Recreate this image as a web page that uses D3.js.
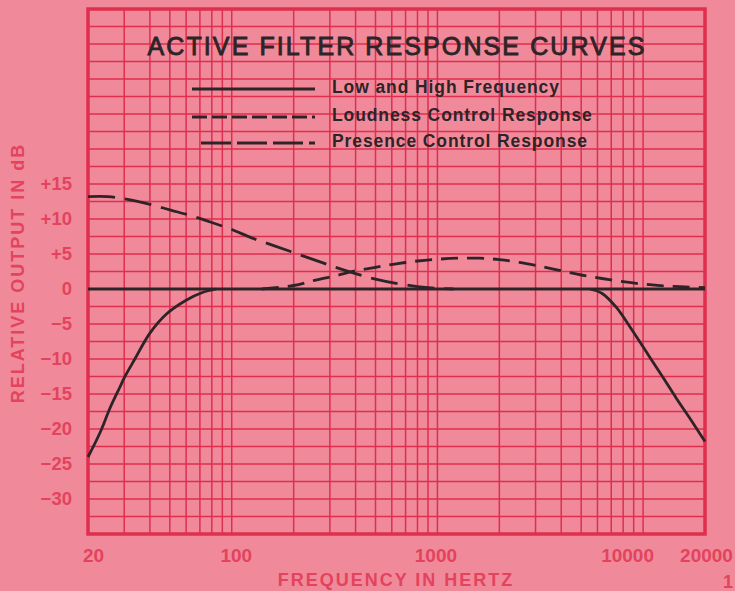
<!DOCTYPE html>
<html>
<head>
<meta charset="utf-8">
<script src="https://cdn.jsdelivr.net/npm/d3@7"></script>
<style>
  body { margin: 0; background: #f08a9b; }
  svg { display: block; }
  text { font-family: "Liberation Sans", Arial, Helvetica, sans-serif; }
</style>
</head>
<body>
<div id="chart"></div>
<script>
// data
var freqTicks = [20, 100, 1000, 10000, 20000];
var freqTickLabels = ["20", "100", "1000", "10000", "20000"];
var dbTicks = [15, 10, 5, 0, -5, -10, -15, -20, -25, -30];
var dbTickLabels = ["+15", "+10", "+5", "0", "\u22125", "\u221210", "\u221215", "\u221220", "\u221225", "\u221230"];

var flatFreq = [20, 20000];
var flatDb = [0, 0];

var lowCutFreq = [20, 22.9, 25.6, 28.6, 30, 33.8, 40, 48, 60, 72, 84];
var lowCutDb = [-24, -20.5, -17, -14, -12.7, -10, -6.3, -3.6, -1.6, -0.5, 0];

var highCutFreq = [5500, 6300, 7400, 8850, 10700, 12600, 14500, 17000, 20000];
var highCutDb = [0, -0.6, -2.6, -5.9, -9.6, -12.8, -15.6, -18.6, -21.8];

var loudnessFreq = [140, 200, 250, 320, 400, 500, 630, 800, 1000, 1250, 1600, 2000, 2500, 3200, 4000, 5000, 6300, 8000, 10000, 12500, 16000, 20000];
var loudnessDb = [0, 0.5, 1.2, 1.9, 2.6, 3.1, 3.6, 4.0, 4.25, 4.4, 4.4, 4.2, 3.8, 3.2, 2.6, 2.0, 1.5, 1.05, 0.7, 0.45, 0.3, 0.2];

var presenceFreq = [20, 25, 30, 40, 50, 63, 80, 100, 125, 160, 200, 250, 320, 400, 500, 630, 800, 1000, 1200];
var presenceDb = [13.2, 13.2, 12.9, 12.1, 11.3, 10.5, 9.5, 8.5, 7.3, 6.2, 5.2, 4.2, 3.1, 2.2, 1.4, 0.8, 0.35, 0.1, 0];

var legendLabels = ["Low and High Frequency", "Loudness Control Response", "Presence Control Response"];

var svgWidth = 735;
var svgHeight = 591;

var margin = { top: 9, right: 30, bottom: 57, left: 88 };
var width = svgWidth - margin.left - margin.right;
var height = svgHeight - margin.top - margin.bottom;

var gridColor = "#df2e4e";
var labelColor = "#e3435c";
var inkColor = "#2e2427";

var svg = d3.select("#chart")
  .append("svg")
  .attr("width", svgWidth)
  .attr("height", svgHeight);

var chartGroup = svg.append("g")
  .attr("transform", `translate(${margin.left}, ${margin.top})`);

// scales
var xLogScale = d3.scaleLog()
  .domain([20, 20000])
  .range([0, width]);

var yLinearScale = d3.scaleLinear()
  .domain([-35, 40])
  .range([height, 0]);

// grid: every 1..9 of each decade up to 10k, and every 2.5 dB
var gridFreqs = [];
[10, 100, 1000, 10000].forEach(function(dec) {
  d3.range(1, 10).forEach(function(m) {
    var f = dec * m;
    if (f > 20 && f <= 10000) gridFreqs.push(f);
  });
});
var gridDbs = d3.range(-35, 40.1, 2.5);

chartGroup.append("g")
  .selectAll("line")
  .data(gridFreqs)
  .enter()
  .append("line")
  .attr("x1", d => xLogScale(d))
  .attr("x2", d => xLogScale(d))
  .attr("y1", 0)
  .attr("y2", height)
  .attr("stroke", gridColor)
  .attr("stroke-width", 1.5);

chartGroup.append("g")
  .selectAll("line")
  .data(gridDbs)
  .enter()
  .append("line")
  .attr("x1", 0)
  .attr("x2", width)
  .attr("y1", d => yLinearScale(d))
  .attr("y2", d => yLinearScale(d))
  .attr("stroke", gridColor)
  .attr("stroke-width", 1.5);

chartGroup.append("rect")
  .attr("x", 0)
  .attr("y", 0)
  .attr("width", width)
  .attr("height", height)
  .attr("fill", "none")
  .attr("stroke", gridColor)
  .attr("stroke-width", 3.5);

// axes (labels only, no tick marks)
var bottomAxis = d3.axisBottom(xLogScale)
  .tickValues(freqTicks)
  .tickFormat((d, i) => freqTickLabels[i])
  .tickSize(0)
  .tickPadding(0);

var xAxisGroup = chartGroup.append("g")
  .attr("transform", `translate(0, ${height})`)
  .call(bottomAxis);
xAxisGroup.select(".domain").remove();
var xLabelShift = [5, 4, -2, -16, 1];
xAxisGroup.selectAll("text")
  .attr("y", 28)
  .attr("dy", 0)
  .attr("dx", (d, i) => xLabelShift[i])
  .attr("fill", labelColor)
  .attr("font-size", 19)
  .attr("font-weight", "bold")
  .attr("font-family", "Liberation Sans, Arial, sans-serif");

var leftAxis = d3.axisLeft(yLinearScale)
  .tickValues(dbTicks)
  .tickFormat((d, i) => dbTickLabels[i])
  .tickSize(0)
  .tickPadding(16);

var yAxisGroup = chartGroup.append("g").call(leftAxis);
yAxisGroup.select(".domain").remove();
yAxisGroup.selectAll("text")
  .attr("fill", labelColor)
  .attr("font-size", 18.5)
  .attr("font-weight", "bold")
  .attr("font-family", "Liberation Sans, Arial, sans-serif");

// curves
var line = d3.line()
  .x(d => xLogScale(d[0]))
  .y(d => yLinearScale(d[1]))
  .curve(d3.curveCatmullRom.alpha(0.5));

function pairs(fs, dbs) {
  return fs.map((f, i) => [f, dbs[i]]);
}

var curves = [
  { data: pairs(flatFreq, flatDb), dash: null },
  { data: pairs(lowCutFreq, lowCutDb), dash: null },
  { data: pairs(highCutFreq, highCutDb), dash: null },
  { data: pairs(loudnessFreq, loudnessDb), dash: "17,9" },
  { data: pairs(presenceFreq, presenceDb), dash: "27,10" }
];

chartGroup.selectAll(".curve")
  .data(curves)
  .enter()
  .append("path")
  .attr("class", "curve")
  .attr("d", d => line(d.data))
  .attr("fill", "none")
  .attr("stroke", inkColor)
  .attr("stroke-width", 2.8)
  .attr("stroke-dasharray", d => d.dash);

// title
svg.append("text")
  .attr("x", 397)
  .attr("y", 55)
  .attr("text-anchor", "middle")
  .attr("font-size", 25)
  .attr("letter-spacing", 2.1)
  .attr("fill", inkColor)
  .attr("stroke", inkColor)
  .attr("stroke-width", 0.9)
  .text("ACTIVE FILTER RESPONSE CURVES");

// legend
var legendDash = [null, "15,5", "30,6"];
var legendY = [89, 117, 143];
var legendGroup = svg.append("g");
legendLabels.forEach(function(label, i) {
  legendGroup.append("line")
    .attr("x1", i === 2 ? 201 : 192)
    .attr("x2", 315)
    .attr("y1", legendY[i])
    .attr("y2", legendY[i])
    .attr("stroke", inkColor)
    .attr("stroke-width", 2.8)
    .attr("stroke-dasharray", legendDash[i]);
  legendGroup.append("text")
    .attr("x", 332)
    .attr("y", legendY[i] + 4)
    .attr("font-size", 17.5)
    .attr("font-weight", "bold")
    .attr("letter-spacing", 0.9)
    .attr("fill", inkColor)
    .text(label);
});

// axis titles
svg.append("text")
  .attr("transform", "translate(24, 273) rotate(-90)")
  .attr("text-anchor", "middle")
  .attr("font-size", 18)
  .attr("font-weight", "bold")
  .attr("letter-spacing", 2)
  .attr("fill", labelColor)
  .text("RELATIVE OUTPUT IN dB");

svg.append("text")
  .attr("x", 396)
  .attr("y", 586)
  .attr("text-anchor", "middle")
  .attr("font-size", 18)
  .attr("font-weight", "bold")
  .attr("letter-spacing", 2)
  .attr("fill", labelColor)
  .text("FREQUENCY IN HERTZ");

// page number in the corner
svg.append("text")
  .attr("x", 723)
  .attr("y", 588)
  .attr("font-size", 18)
  .attr("font-weight", "bold")
  .attr("fill", labelColor)
  .text("1");
</script>
</body>
</html>
